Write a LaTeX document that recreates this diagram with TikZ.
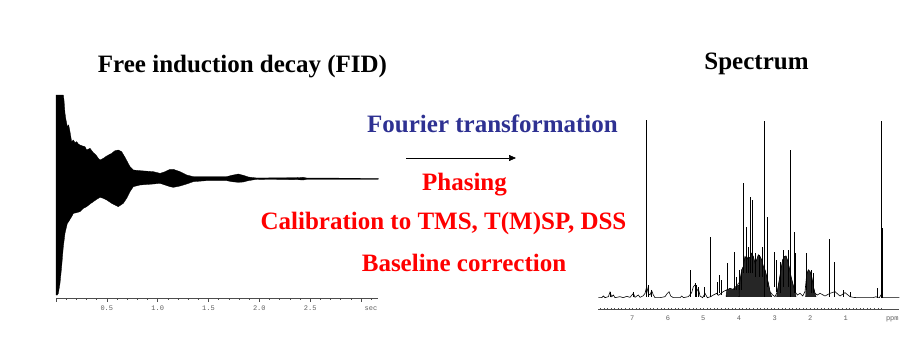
\documentclass[tikz,border=0pt]{standalone}
\usepackage{fontspec}
\setmainfont{Liberation Serif}
\newfontfamily\monofont{Liberation Mono}
\usetikzlibrary{arrows.meta}
\definecolor{ftblue}{RGB}{46,49,146}
\begin{document}
\begin{tikzpicture}[x=1pt,y=-1pt,
  titletxt/.style={font=\fontsize{25}{30}\selectfont\bfseries, anchor=base, inner sep=0pt},
  redtxt/.style={titletxt, text=red},
  ticklbl/.style={font=\monofont\fontsize{7}{8}\selectfont, text=gray!75!black, anchor=base, inner sep=0pt},
  axisline/.style={line width=0.5pt, gray!60!black},
  peak/.style={line width=0.5pt, black},
  hump/.style={fill=black!85, draw=black, line width=0.4pt}]
\useasboundingbox (0,0) rectangle (920,361);
\fill[white] (0,0) rectangle (920,361);

% titles and labels
\node[titletxt] (fidtitle) at (242.5,72) {Free induction decay (FID)};
\node[titletxt] (spectitle) at (756.5,69) {Spectrum};
\node[titletxt, text=ftblue] (ft) at (492.5,132) {Fourier transformation};
\node[redtxt] (phasing) at (464.5,190) {Phasing};
\node[redtxt] (calib) at (443.5,229) {Calibration to TMS, T(M)SP, DSS};
\node[redtxt] (baseline) at (464,271) {Baseline correction};

\coordinate (arrA) at (406,158);
\coordinate (arrB) at (516,158);
\draw[line width=0.7pt, -{Triangle[length=7pt,width=6pt]}] (arrA) -- (arrB);

% FID
\begin{scope}[shift={(40,80)}, scale=1/3]
\filldraw[black, line width=0.3pt] (48,45) -- (70,45) -- (72,60) -- (75,100) -- (78,120) -- (82,140) -- (86,135) -- (90,155) -- (95,185) -- (100,180) -- (105,188) -- (110,185) -- (115,192) -- (120,195) -- (128,198) -- (135,200) -- (140,210) -- (150,205) -- (160,218) -- (168,225) -- (175,235) -- (180,240) -- (190,235) -- (200,228) -- (215,220) -- (225,212) -- (235,210) -- (245,215) -- (255,232) -- (262,245) -- (270,260) -- (280,270) -- (300,272) -- (340,275) -- (360,280) -- (375,275) -- (390,268) -- (400,268) -- (420,275) -- (440,285) -- (460,290) -- (500,290) -- (560,290) -- (575,286) -- (595,282) -- (610,286) -- (625,291) -- (650,294) -- (770,293) -- (790,292) -- (800,294) -- (1015,295)
 -- (1015,298) -- (800,298) -- (790,300) -- (770,299) -- (650,298) -- (625,302) -- (610,306) -- (595,307) -- (575,305) -- (560,302) -- (500,302) -- (460,305) -- (440,312) -- (420,318) -- (400,322) -- (390,320) -- (375,315) -- (360,310) -- (340,312) -- (300,315) -- (280,320) -- (270,335) -- (260,355) -- (250,370) -- (235,380) -- (225,375) -- (215,370) -- (200,360) -- (190,355) -- (180,352) -- (170,358) -- (160,365) -- (150,372) -- (140,380) -- (130,385) -- (120,395) -- (110,398) -- (100,400) -- (95,410) -- (90,418) -- (86,425) -- (82,430) -- (75,460) -- (70,500) -- (65,560) -- (60,610) -- (55,640) -- (52,645) -- (48,645) -- cycle;
% axis
\draw[axisline] (48,655) -- (1015,655);
\foreach \i in {0,...,31}{
  \pgfmathsetmacro{\tx}{48+30.5*\i}
  \pgfmathtruncatemacro{\mj}{mod(\i,5)==0 ? 1 : 0}
  \ifnum\mj=1 \draw[axisline] (\tx,655) -- (\tx,667);
  \else \draw[axisline] (\tx,655) -- (\tx,661); \fi
}
\foreach \v/\x [count=\k] in {0.5/200.5, 1.0/353, 1.5/505.5, 2.0/658, 2.5/810.5, sec/993}
  \node[ticklbl] (fidlbl\k) at (\x,692) {\v};
\end{scope}

% Spectrum
\begin{scope}[shift={(580,100)}, scale=1/3]
\draw[line width=0.6pt, black] (55,593) -- (65,593) -- (70,588) -- (75,593) -- (85,590) -- (90,576) -- (95,590) -- (100,585) -- (105,593) -- (120,590) -- (130,593) -- (140,589) -- (150,592) -- (160,580) -- (165,592) -- (175,585) -- (180,592) -- (190,587) -- (195,580) -- (200,560) -- (205,580) -- (210,585) -- (215,572) -- (220,585) -- (225,593) -- (240,593) -- (255,590) -- (262,580) -- (267,575) -- (272,588) -- (280,593) -- (300,593) -- (305,588) -- (310,593) -- (325,590) -- (335,578) -- (340,560) -- (345,555) -- (350,575) -- (355,565) -- (360,588) -- (368,593) -- (375,580) -- (382,593) -- (392,590) -- (400,585) -- (410,580) -- (415,586) -- (420,583) -- (425,578) -- (430,575) -- (435,572) -- (440,570) -- (445,574) -- (450,565) -- (455,570) -- (460,568) -- (465,560) -- (470,560) -- (475,550) -- (480,545) -- (485,510) -- (490,500) -- (495,470) -- (500,480) -- (505,470) -- (510,475) -- (515,460) -- (520,470) -- (525,490) -- (530,480) -- (535,465) -- (540,470) -- (545,480) -- (550,500) -- (555,510) -- (560,530) -- (565,550) -- (570,575) -- (578,585) -- (585,590) -- (592,575) -- (598,540) -- (603,510) -- (608,480) -- (613,470) -- (618,468) -- (622,480) -- (627,500) -- (633,530) -- (638,550) -- (645,575) -- (652,585) -- (660,580) -- (668,588) -- (675,575) -- (680,525) -- (685,510) -- (690,515) -- (695,530) -- (700,560) -- (705,580) -- (712,585) -- (720,580) -- (735,588) -- (750,580) -- (765,575) -- (780,588) -- (795,578) -- (810,590) -- (820,592) -- (830,593) -- (880,593) -- (888,590) -- (893,593) -- (898,593) -- (903,585) -- (908,593) -- (958,593);
% dense humps
\filldraw[hump] (476,590) -- (480,545) -- (485,510) -- (490,500) -- (495,470) -- (500,480) -- (505,470) -- (510,475) -- (515,460) -- (520,470) -- (525,490) -- (530,480) -- (535,465) -- (540,470) -- (545,480) -- (550,500) -- (555,510) -- (560,530) -- (565,550) -- (570,575) -- (575,590) -- cycle;
\filldraw[hump] (590,590) -- (592,575) -- (598,540) -- (603,510) -- (608,480) -- (613,470) -- (618,468) -- (622,480) -- (627,500) -- (633,530) -- (638,550) -- (645,575) -- (648,590) -- cycle;
\filldraw[hump] (677,590) -- (680,525) -- (685,510) -- (690,515) -- (695,530) -- (700,560) -- (705,580) -- (708,590) -- cycle;
\filldraw[hump] (438,590) -- (440,570) -- (450,565) -- (460,568) -- (470,560) -- (476,555) -- (478,590) -- cycle;
% peaks
\foreach \x/\t/\b in {200/60/590, 630/150/590, 903/62/593, 906/385/593, 490/248/520, 510/290/520, 517/300/520, 500/380/520, 562/350/560, 390/410/590, 643/395/580, 748/418/590, 762/485/590, 680/458/570, 462/455/570, 443/490/570, 330/510/590, 418/525/580, 610/450/560, 625/450/560, 547/440/530, 537/465/530, 527/460/530, 582/455/560, 478/510/570, 483/515/570, 345/550/590, 350/555/590, 355/560/590, 373/562/590, 425/540/585, 412/545/585, 893/565/593, 600/485/580, 695/510/580, 700/520/580, 790/570/590, 810/575/590, 205/555/590, 215/570/590, 160/575/590, 90/575/592, 470/530/570, 505/440/520, 590/480/575, 645/460/580}
  \draw[peak] (\x,\b) -- (\x,\t);
\draw[line width=1.3pt] (553,590) -- (553,62);
% axis
\draw[axisline] (55,628) -- (958,628);
\foreach \i in {0,...,79}{
  \pgfmathsetmacro{\tx}{904-10.67*\i}
  \draw[axisline] (\tx,625) -- (\tx,631);
}
\foreach \v/\x [count=\k] in {7/157, 6/264, 5/370, 4/477, 3/584, 2/691, 1/797, ppm/937}
  \node[ticklbl] (splbl\k) at (\x,662) {\v};
\end{scope}
\end{tikzpicture}
\end{document}
